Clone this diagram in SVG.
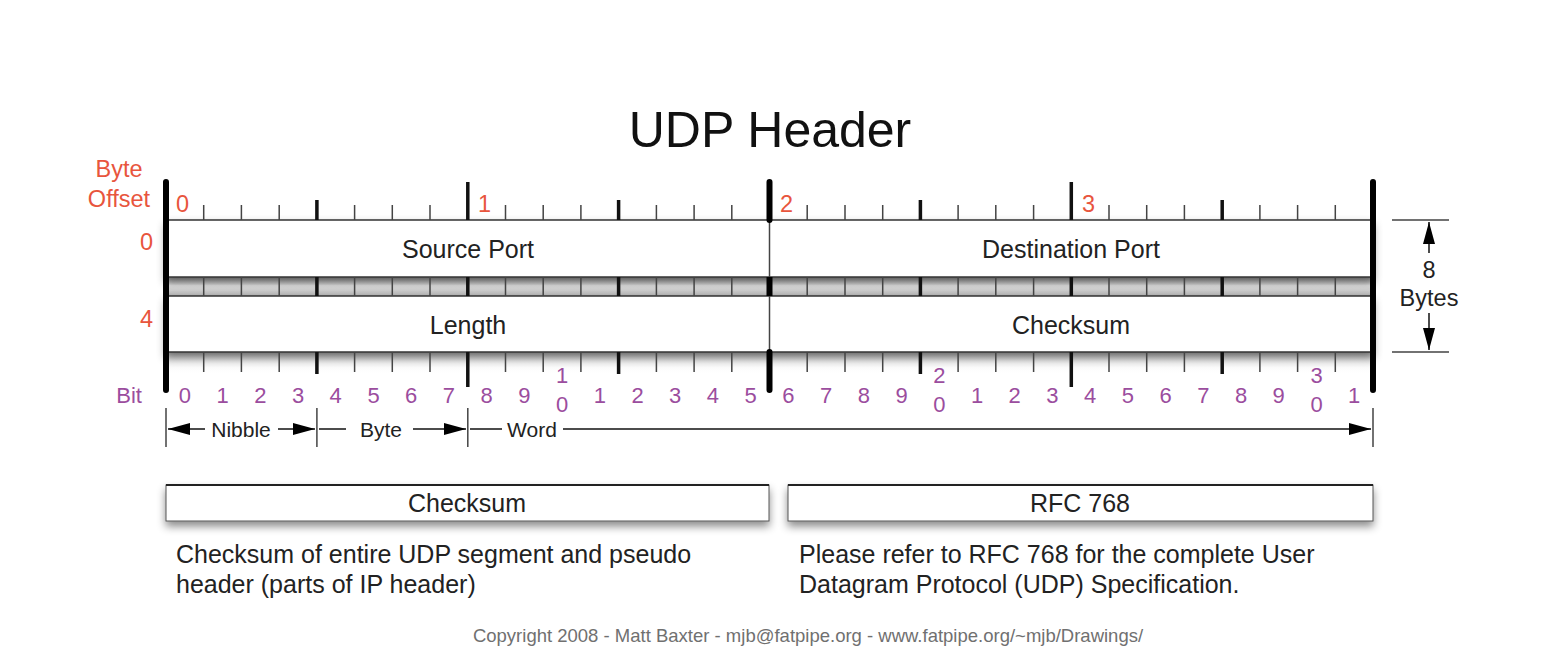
<svg xmlns="http://www.w3.org/2000/svg" width="1558" height="668" viewBox="0 0 1558 668">
<style>
text{font-family:"Liberation Sans",Arial,sans-serif}
.title{font-size:50px;fill:#111}
.red{font-size:23.5px;fill:#e8553d}
.pur{font-size:22px;fill:#9b4d9e;text-anchor:middle}
.fld{font-size:25px;fill:#222;text-anchor:middle}
.lbl{font-size:21px;fill:#222;text-anchor:middle}
.desc{font-size:25px;fill:#222}
.copy{font-size:18.5px;fill:#707070;text-anchor:middle}
.thin{stroke:#444;stroke-width:1.5;fill:none}
.mid{stroke:#111;stroke-width:3.5;fill:none}
.thick{stroke:#000;stroke-width:6;stroke-linecap:round;fill:none}
.row{fill:#fff;stroke:#333;stroke-width:1.5}
.conn{stroke:#111;stroke-width:1.5;fill:none}
</style>
<defs>
<linearGradient id="band" x1="0" y1="0" x2="0" y2="1">
<stop offset="0" stop-color="#a4a4a4"/>
<stop offset="0.45" stop-color="#e4e4e4"/>
<stop offset="1" stop-color="#b2b2b2"/>
</linearGradient>
<linearGradient id="under" x1="0" y1="0" x2="0" y2="1">
<stop offset="0" stop-color="#c4c4c4"/>
<stop offset="1" stop-color="#ffffff" stop-opacity="0"/>
</linearGradient>
<filter id="shadow" x="-5%" y="-30%" width="110%" height="180%">
<feDropShadow dx="0" dy="5" stdDeviation="4" flood-color="#000" flood-opacity="0.45"/>
</filter>
<marker id="arr" viewBox="0 0 22 12" refX="22" refY="6" markerWidth="22" markerHeight="12" markerUnits="userSpaceOnUse" orient="auto-start-reverse">
<path d="M0,0 L22,6 L0,12 z" fill="#000"/>
</marker>
</defs>
<rect width="1558" height="668" fill="#fff"/>

<g id="title"><text class="title" x="770" y="147" text-anchor="middle">UDP Header</text></g>

<g id="byte-offset-labels">
<text class="red" x="119" y="177" text-anchor="middle">Byte</text>
<text class="red" x="119" y="207" text-anchor="middle">Offset</text>
<text class="red" x="176" y="212">0</text>
<text class="red" x="478" y="212">1</text>
<text class="red" x="780" y="212">2</text>
<text class="red" x="1082" y="212">3</text>
<text class="red" x="153" y="250" text-anchor="end">0</text>
<text class="red" x="153" y="327" text-anchor="end">4</text>
</g>

<g id="band">
<rect x="166" y="277" width="1207" height="19" fill="url(#band)"/>
<rect x="166" y="352" width="1207" height="22" fill="url(#under)"/>
</g>

<g id="row-1" filter="url(#shadow)">
<rect class="row" x="166" y="220" width="1207" height="57"/>
</g>
<g id="row-2" filter="url(#shadow)">
<rect class="row" x="166" y="296" width="1207" height="56"/>
</g>

<g id="source-port"><text class="fld" x="468" y="258">Source Port</text></g>
<g id="destination-port"><text class="fld" x="1071" y="258">Destination Port</text></g>
<g id="length"><text class="fld" x="468" y="334">Length</text></g>
<g id="checksum-field"><text class="fld" x="1071" y="334">Checksum</text></g>

<g id="ruler">
<path class="thin" d="M203.7,205V220M241.4,205V220M279.2,205V220M354.6,205V220M392.3,205V220M430,205V220M505.5,205V220M543.2,205V220M580.9,205V220M656.4,205V220M694.1,205V220M731.8,205V220M807.2,205V220M845,205V220M882.7,205V220M958.1,205V220M995.8,205V220M1033.6,205V220M1109,205V220M1146.7,205V220M1184.4,205V220M1259.9,205V220M1297.6,205V220M1335.3,205V220"/>
<path class="thin" d="M203.7,277V296M241.4,277V296M279.2,277V296M354.6,277V296M392.3,277V296M430,277V296M505.5,277V296M543.2,277V296M580.9,277V296M656.4,277V296M694.1,277V296M731.8,277V296M807.2,277V296M845,277V296M882.7,277V296M958.1,277V296M995.8,277V296M1033.6,277V296M1109,277V296M1146.7,277V296M1184.4,277V296M1259.9,277V296M1297.6,277V296M1335.3,277V296"/>
<path class="thin" d="M203.7,352V372M241.4,352V372M279.2,352V372M354.6,352V372M392.3,352V372M430,352V372M505.5,352V372M543.2,352V372M580.9,352V372M656.4,352V372M694.1,352V372M731.8,352V372M807.2,352V372M845,352V372M882.7,352V372M958.1,352V372M995.8,352V372M1033.6,352V372M1109,352V372M1146.7,352V372M1184.4,352V372M1259.9,352V372M1297.6,352V372M1335.3,352V372"/>
<path class="thin" d="M769.5,220V352"/>
<path class="mid" d="M316.9,200V220M618.6,200V220M920.4,200V220M1222.2,200V220M467.8,182V220M1071.3,182V220"/>
<path class="mid" d="M316.9,277V296M618.6,277V296M920.4,277V296M1222.2,277V296M467.8,277V296M1071.3,277V296"/>
<path class="mid" d="M316.9,352V374M618.6,352V374M920.4,352V374M1222.2,352V374M467.8,352V387M1071.3,352V387"/>
<path class="thick" d="M166,182V390M1373,182V390M769.5,182V220M769.5,352V390"/>
<path d="M766.5,277h6v19h-6z" fill="#000"/>
</g>

<g id="bit-labels">
<text class="pur" x="142" y="403" style="text-anchor:end">Bit</text>
<text class="pur" x="184.9" y="403">0</text>
<text class="pur" x="222.6" y="403">1</text>
<text class="pur" x="260.3" y="403">2</text>
<text class="pur" x="298" y="403">3</text>
<text class="pur" x="335.7" y="403">4</text>
<text class="pur" x="373.5" y="403">5</text>
<text class="pur" x="411.2" y="403">6</text>
<text class="pur" x="448.9" y="403">7</text>
<text class="pur" x="486.6" y="403">8</text>
<text class="pur" x="524.3" y="403">9</text>
<text class="pur" x="562.1" y="383">1</text>
<text class="pur" x="562.1" y="412">0</text>
<text class="pur" x="599.8" y="403">1</text>
<text class="pur" x="637.5" y="403">2</text>
<text class="pur" x="675.2" y="403">3</text>
<text class="pur" x="712.9" y="403">4</text>
<text class="pur" x="750.7" y="403">5</text>
<text class="pur" x="788.4" y="403">6</text>
<text class="pur" x="826.1" y="403">7</text>
<text class="pur" x="863.8" y="403">8</text>
<text class="pur" x="901.5" y="403">9</text>
<text class="pur" x="939.3" y="383">2</text>
<text class="pur" x="939.3" y="412">0</text>
<text class="pur" x="977" y="403">1</text>
<text class="pur" x="1014.7" y="403">2</text>
<text class="pur" x="1052.4" y="403">3</text>
<text class="pur" x="1090.1" y="403">4</text>
<text class="pur" x="1127.9" y="403">5</text>
<text class="pur" x="1165.6" y="403">6</text>
<text class="pur" x="1203.3" y="403">7</text>
<text class="pur" x="1241" y="403">8</text>
<text class="pur" x="1278.7" y="403">9</text>
<text class="pur" x="1316.5" y="383">3</text>
<text class="pur" x="1316.5" y="412">0</text>
<text class="pur" x="1354.2" y="403">1</text>
</g>

<g id="scale-labels">
<path class="thin" d="M166,408V447M316.9,408V447M467.8,408V447M1373,408V447"/>
<text class="lbl" x="241" y="437">Nibble</text>
<text class="lbl" x="381" y="437">Byte</text>
<text class="lbl" x="532" y="437">Word</text>
</g>

<g id="eight-bytes">
<path class="thin" d="M1392,220H1449M1392,352H1449"/>
<text class="fld" x="1429" y="278" style="font-size:23.5px">8</text>
<text class="fld" x="1429" y="306" style="font-size:23.5px">Bytes</text>
</g>

<g id="connectors">
<line class="conn" x1="205" y1="429" x2="168" y2="429" marker-end="url(#arr)"/>
<line class="conn" x1="278" y1="429" x2="315" y2="429" marker-end="url(#arr)"/>
<line class="conn" x1="319" y1="429" x2="346" y2="429"/>
<line class="conn" x1="413" y1="429" x2="466" y2="429" marker-end="url(#arr)"/>
<line class="conn" x1="470" y1="429" x2="502" y2="429"/>
<line class="conn" x1="563" y1="429" x2="1371" y2="429" marker-end="url(#arr)"/>
<line class="conn" x1="1429" y1="253" x2="1429" y2="222" marker-end="url(#arr)"/>
<line class="conn" x1="1429" y1="313" x2="1429" y2="350" marker-end="url(#arr)"/>
</g>

<g id="checksum-box">
<rect x="166" y="485" width="603" height="36" fill="#fff" stroke="#555" stroke-width="1" filter="url(#shadow)"/>
<line x1="166" y1="485" x2="769" y2="485" stroke="#222" stroke-width="2"/>
<text class="fld" x="467" y="512">Checksum</text>
</g>
<g id="rfc-box">
<rect x="788" y="485" width="585" height="36" fill="#fff" stroke="#555" stroke-width="1" filter="url(#shadow)"/>
<line x1="788" y1="485" x2="1373" y2="485" stroke="#222" stroke-width="2"/>
<text class="fld" x="1080" y="512">RFC 768</text>
</g>

<g id="checksum-desc">
<text class="desc" x="176" y="563">Checksum of entire UDP segment and pseudo</text>
<text class="desc" x="176" y="593">header (parts of IP header)</text>
</g>
<g id="rfc-desc">
<text class="desc" x="799" y="563">Please refer to RFC 768 for the complete User</text>
<text class="desc" x="799" y="593">Datagram Protocol (UDP) Specification.</text>
</g>

<g id="copyright"><text class="copy" x="808" y="642">Copyright 2008 - Matt Baxter - mjb@fatpipe.org - www.fatpipe.org/~mjb/Drawings/</text></g>
</svg>
